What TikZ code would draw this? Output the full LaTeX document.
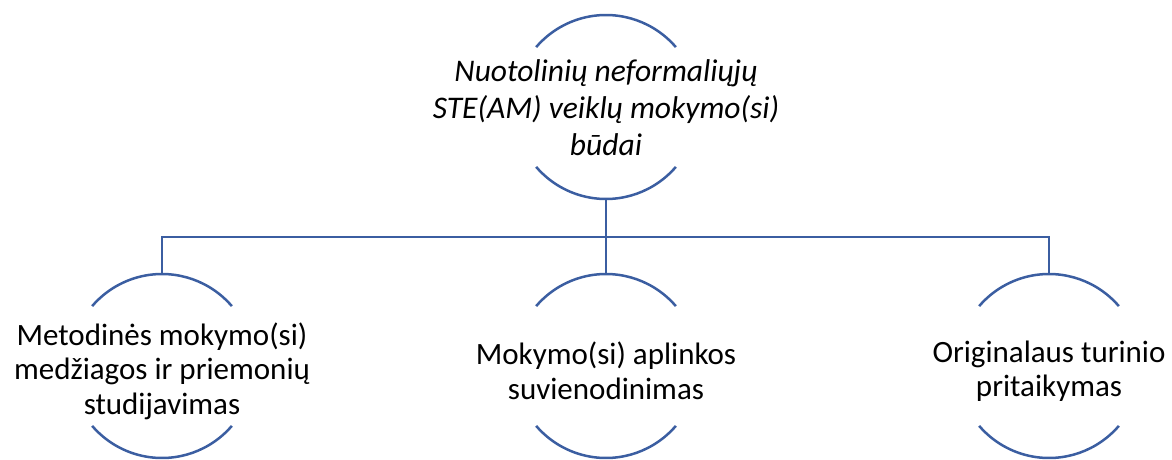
\documentclass[tikz,border=0pt]{standalone}
\usepackage{fontspec}
\setmainfont{Carlito}
\definecolor{arcblue}{RGB}{59,94,161}
\tikzset{
  lbl/.style={align=center, inner sep=0pt, font=\fontsize{31}{34.5}\selectfont},
  toplbl/.style={lbl, font=\fontsize{31.5}{37}\selectfont\itshape},
  arcline/.style={draw=arcblue, line width=2.5pt},
  conn/.style={draw=arcblue, line width=2.5pt},
}
\begin{document}
\begin{tikzpicture}[x=1pt,y=1pt]
\useasboundingbox (0,0) rectangle (1172,459);
\node[toplbl] (top) at (606,351) {Nuotolinių neformaliųjų\\STE(AM) veiklų mokymo(si)\\būdai};
\node[lbl] (c1) at (162,88) {Metodinės mokymo(si)\\medžiagos ir priemonių\\studijavimas};
\node[lbl] (c2) at (606,88) {Mokymo(si) aplinkos\\suvienodinimas};
\node[lbl] (c3) at (1049,88) {Originalaus turinio\\pritaikymas};
\coordinate (topc) at (606,352);
\coordinate (topbot) at ([yshift=-92pt]topc);
\coordinate (bus) at (606,222);
\coordinate (c1top) at (162,185);
\coordinate (c2top) at (606,185);
\coordinate (c3top) at (1049,185);
\foreach \n/\x/\y in {topc/606/352, c1c/162/93, c2c/606/93, c3c/1049/93}{
  \coordinate (\n) at (\x,\y);
  \draw[arcline] ([shift={(40.6:92pt)}]\n) arc[start angle=40.6, end angle=139.4, radius=92pt];
  \draw[arcline] ([shift={(-40.6:92pt)}]\n) arc[start angle=-40.6, end angle=-139.4, radius=92pt];
}
\draw[conn] (topbot) -- (bus);
\draw[conn] (bus) -| (c1top);
\draw[conn] (bus) -| (c3top);
\draw[conn] (bus) -- (c2top);
\end{tikzpicture}
\end{document}
